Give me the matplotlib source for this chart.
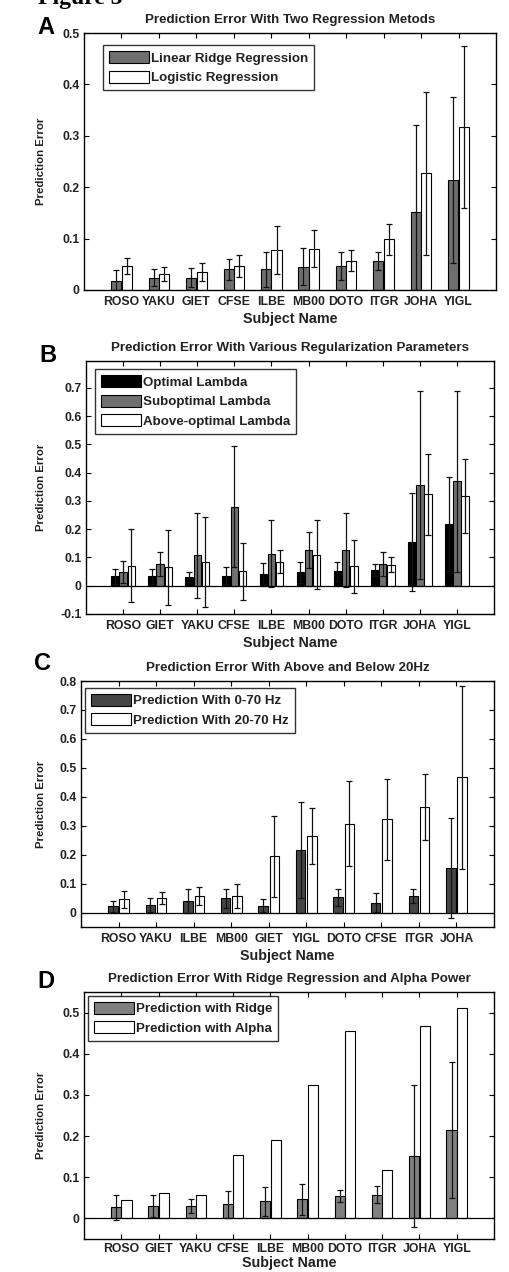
import numpy as np
import matplotlib
matplotlib.use('Agg')
import matplotlib.pyplot as plt

plt.rcParams['font.family'] = ['Liberation Sans', 'DejaVu Sans']
plt.rcParams['font.weight'] = 'bold'

# Panel A: two regression methods
names_a = ['ROSO', 'YAKU', 'GIET', 'CFSE', 'ILBE', 'MB00', 'DOTO', 'ITGR', 'JOHA', 'YIGL']
ridge_a = [0.018, 0.024, 0.024, 0.040, 0.040, 0.045, 0.046, 0.056, 0.152, 0.214]
ridge_a_err = [0.020, 0.016, 0.018, 0.021, 0.034, 0.036, 0.027, 0.018, 0.169, 0.161]
logit_a = [0.047, 0.031, 0.035, 0.047, 0.078, 0.080, 0.057, 0.099, 0.227, 0.317]
logit_a_err = [0.015, 0.014, 0.017, 0.021, 0.046, 0.036, 0.021, 0.030, 0.159, 0.157]

# Panel B: regularization parameters
names_b = ['ROSO', 'GIET', 'YAKU', 'CFSE', 'ILBE', 'MB00', 'DOTO', 'ITGR', 'JOHA', 'YIGL']
opt_b = [0.033, 0.033, 0.031, 0.036, 0.043, 0.047, 0.051, 0.055, 0.154, 0.218]
opt_b_err = [0.026, 0.026, 0.019, 0.030, 0.038, 0.038, 0.034, 0.022, 0.173, 0.165]
sub_b = [0.049, 0.078, 0.107, 0.280, 0.114, 0.126, 0.126, 0.078, 0.357, 0.370]
sub_b_err = [0.040, 0.042, 0.150, 0.213, 0.120, 0.064, 0.130, 0.042, 0.333, 0.320]
above_b = [0.071, 0.065, 0.084, 0.051, 0.085, 0.110, 0.069, 0.075, 0.323, 0.318]
above_b_err = [0.130, 0.132, 0.160, 0.100, 0.040, 0.122, 0.093, 0.027, 0.143, 0.131]

# Panel C: above and below 20 Hz
names_c = ['ROSO', 'YAKU', 'ILBE', 'MB00', 'GIET', 'YIGL', 'DOTO', 'CFSE', 'ITGR', 'JOHA']
full_c = [0.021, 0.026, 0.040, 0.049, 0.024, 0.216, 0.052, 0.034, 0.057, 0.154]
full_c_err = [0.019, 0.025, 0.040, 0.034, 0.023, 0.166, 0.028, 0.032, 0.023, 0.174]
high_c = [0.046, 0.051, 0.057, 0.057, 0.195, 0.264, 0.307, 0.322, 0.363, 0.467]
high_c_err = [0.029, 0.021, 0.030, 0.043, 0.140, 0.097, 0.146, 0.140, 0.114, 0.316]

# Panel D: ridge regression vs alpha power
names_d = ['ROSO', 'GIET', 'YAKU', 'CFSE', 'ILBE', 'MB00', 'DOTO', 'ITGR', 'JOHA', 'YIGL']
ridge_d = [0.027, 0.030, 0.030, 0.034, 0.042, 0.046, 0.054, 0.058, 0.152, 0.215]
ridge_d_err = [0.030, 0.027, 0.016, 0.032, 0.035, 0.038, 0.015, 0.021, 0.172, 0.165]
alpha_d = [0.045, 0.062, 0.057, 0.155, 0.190, 0.324, 0.455, 0.117, 0.467, 0.511]

W, H = 509, 1272
fig = plt.figure(figsize=(W / 100, H / 100), dpi=100)

fig.text(0.075, 0.9965, 'Figure 5', family='Liberation Serif', fontsize=17,
         weight='bold', va='baseline')


def make_axes(left, top, right, bottom):
    # pixel box -> figure fraction
    return fig.add_axes([left / W, 1 - bottom / H, (right - left) / W, (bottom - top) / H])


def style_axes(ax, names, ylim, yticks, title, letter, lx, ly, width_px, left_px,
               xpad=4, xlabelpad=3):
    ax.set_xlim(0, 11)
    ax.set_ylim(*ylim)
    ax.set_xticks(np.arange(1, 11))
    ax.set_xticklabels(names, fontsize=8.8, weight='bold', color='#222222')
    ax.set_yticks(yticks)
    ax.set_yticklabels(['{:g}'.format(t) for t in yticks], fontsize=8.8,
                       weight='bold', color='#222222')
    ax.tick_params(direction='in', top=True, right=True, length=3.5, width=0.8)
    ax.tick_params(axis='x', pad=xpad)
    ax.tick_params(axis='y', pad=3)
    for s in ax.spines.values():
        s.set_linewidth(1.0)
    ax.set_xlabel('Subject Name', fontsize=10.3, weight='bold', labelpad=xlabelpad,
                  color='#222222')
    ax.set_ylabel('Prediction Error', fontsize=8.2, weight='bold', color='#222222')
    ax.yaxis.set_label_coords((46 - left_px) / width_px, 0.5)
    ax.set_title(title, fontsize=9.6, weight='bold', pad=7, color='#222222')
    fig.text(lx / W, 1 - ly / H, letter, fontsize=17, weight='bold',
             ha='left', va='center')


def leg(ax, handles, labels, anchor):
    lg = ax.legend(handles, labels, loc='upper left', bbox_to_anchor=anchor,
                   prop={'size': 9.6, 'weight': 'bold'}, frameon=True,
                   fancybox=False, handlelength=3.0, handleheight=1.0,
                   handletextpad=0.15, borderpad=0.45, labelspacing=0.45,
                   borderaxespad=0.0)
    lg.get_frame().set_edgecolor('black')
    lg.get_frame().set_linewidth(1.0)
    for t in lg.get_texts():
        t.set_color('#222222')


ebkw = dict(fmt='none', ecolor='#111111', elinewidth=0.9, capsize=2.5,
            capthick=0.9, zorder=4)
x = np.arange(1, 11)

# ---- A ----
ax = make_axes(84, 33, 496, 290)
w = 0.27
b1 = ax.bar(x - 0.14, ridge_a, w, color='#6e6e6e', edgecolor='black', lw=0.8, zorder=2)
b2 = ax.bar(x + 0.14, logit_a, w, color='white', edgecolor='black', lw=0.8, zorder=2)
ax.errorbar(x - 0.14, ridge_a, yerr=ridge_a_err, **ebkw)
ax.errorbar(x + 0.14, logit_a, yerr=logit_a_err, **ebkw)
style_axes(ax, names_a, (0, 0.5), [0, 0.1, 0.2, 0.3, 0.4, 0.5],
           'Prediction Error With Two Regression Metods', 'A', 37, 27, 412, 84)
leg(ax, [b1, b2], ['Linear Ridge Regression', 'Logistic Regression'], (0.046, 0.953))

# ---- B ----
ax = make_axes(86, 361, 494, 614)
w = 0.2
b1 = ax.bar(x - 0.22, opt_b, w, color='black', edgecolor='black', lw=0.8, zorder=2)
b2 = ax.bar(x, sub_b, w, color='#707070', edgecolor='black', lw=0.8, zorder=2)
b3 = ax.bar(x + 0.22, above_b, w, color='white', edgecolor='black', lw=0.8, zorder=2)
ax.errorbar(x - 0.22, opt_b, yerr=opt_b_err, **ebkw)
ax.errorbar(x, sub_b, yerr=sub_b_err, **ebkw)
ax.errorbar(x + 0.22, above_b, yerr=above_b_err, **ebkw)
ax.axhline(0, color='black', lw=0.9, zorder=3)
style_axes(ax, names_b, (-0.1, 0.795), [-0.1, 0, 0.1, 0.2, 0.3, 0.4, 0.5, 0.6, 0.7],
           'Prediction Error With Various Regularization Parameters', 'B', 39, 355, 408, 86)
leg(ax, [b1, b2, b3], ['Optimal Lambda', 'Suboptimal Lambda', 'Above-optimal Lambda'],
    (0.022, 0.968))

# ---- C ----
ax = make_axes(81, 681, 494, 927)
w = 0.25
b1 = ax.bar(x - 0.15, full_c, w, color='#454545', edgecolor='black', lw=0.8, zorder=2)
b2 = ax.bar(x + 0.15, high_c, w, color='white', edgecolor='black', lw=0.8, zorder=2)
ax.errorbar(x - 0.15, full_c, yerr=full_c_err, **ebkw)
ax.errorbar(x + 0.15, high_c, yerr=high_c_err, **ebkw)
ax.axhline(0, color='black', lw=0.9, zorder=3)
style_axes(ax, names_c, (-0.05, 0.8), [0, 0.1, 0.2, 0.3, 0.4, 0.5, 0.6, 0.7, 0.8],
           'Prediction Error With Above and Below 20Hz', 'C', 34, 664, 413, 81)
leg(ax, [b1, b2], ['Prediction With 0-70 Hz', 'Prediction With 20-70 Hz'], (0.01, 0.972))

# ---- D ----
ax = make_axes(84, 992, 494, 1239)
w = 0.27
b1 = ax.bar(x - 0.14, ridge_d, w, color='#808080', edgecolor='black', lw=0.8, zorder=2)
b2 = ax.bar(x + 0.14, alpha_d, w, color='white', edgecolor='black', lw=0.8, zorder=2)
ax.errorbar(x - 0.14, ridge_d, yerr=ridge_d_err, **ebkw)
ax.axhline(0, color='black', lw=0.9, zorder=3)
style_axes(ax, names_d, (-0.05, 0.55), [0, 0.1, 0.2, 0.3, 0.4, 0.5],
           'Prediction Error With Ridge Regression and Alpha Power', 'D', 37, 982, 410, 84,
           xpad=3, xlabelpad=0.5)
leg(ax, [b1, b2], ['Prediction with Ridge', 'Prediction with Alpha'], (0.01, 0.984))

fig.savefig('out.png', dpi=100)
